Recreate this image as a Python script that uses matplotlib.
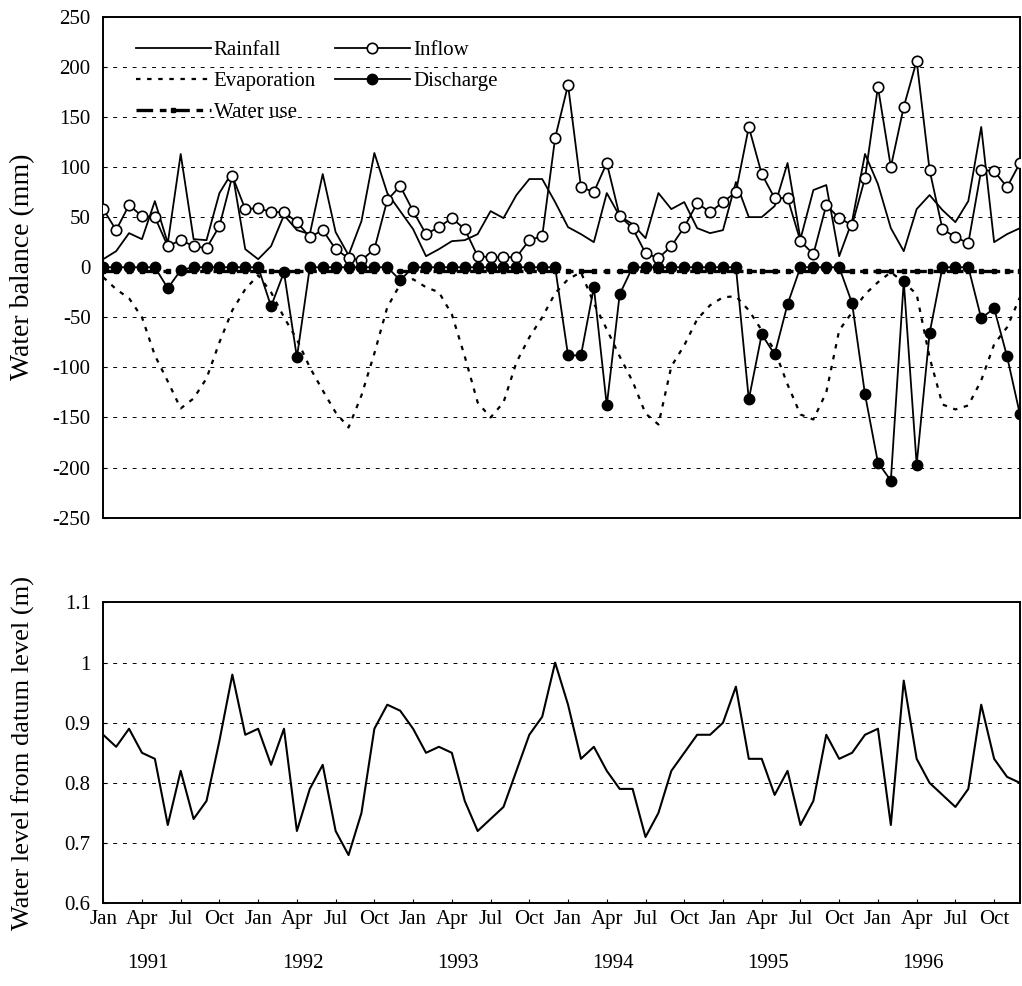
import matplotlib
matplotlib.use('Agg')
import matplotlib.pyplot as plt
from matplotlib.ticker import FuncFormatter
import numpy as np

plt.rcParams['font.family'] = ['Liberation Serif', 'DejaVu Serif']
plt.rcParams['axes.unicode_minus'] = False

# monthly values, Jan 1991 - Dec 1996
rainfall = [8, 16, 34, 28, 66, 24, 113, 28, 27, 74, 95, 18,
            8, 21, 52, 37, 33, 93, 35, 12, 46, 114, 74, 56,
            38, 11, 18, 26, 27, 33, 56, 49, 72, 88, 88, 65,
            40, 33, 25, 74, 51, 43, 29, 74, 58, 65, 39, 34,
            37, 85, 50, 50, 61, 104, 28, 77, 82, 11, 46, 113,
            83, 39, 16, 58, 72, 57, 45, 66, 140, 25, 33, 39]
inflow = [58, 37, 62, 51, 50, 21, 27, 21, 19, 41, 91, 58,
          59, 55, 55, 45, 30, 37, 18, 9, 7, 18, 67, 81,
          56, 33, 40, 49, 38, 11, 10, 10, 10, 27, 31, 129,
          182, 80, 75, 104, 51, 39, 14, 9, 21, 40, 64, 55,
          65, 75, 140, 93, 69, 69, 26, 13, 62, 49, 42, 89,
          180, 100, 160, 206, 97, 38, 30, 24, 97, 96, 80, 104]
evaporation = [-10, -22, -31, -50, -88, -114, -141, -131, -111, -75, -43, -22,
               -8, -25, -50, -72, -100, -123, -145, -160, -128, -86, -40, -17,
               -12, -20, -25, -47, -89, -135, -150, -135, -95, -70, -50, -26,
               -12, -5, -36, -62, -89, -114, -146, -157, -99, -78, -52, -38,
               -30, -29, -43, -63, -83, -117, -147, -152, -125, -63, -45, -27,
               -15, -5, -15, -27, -90, -137, -142, -138, -113, -77, -60, -30]
discharge = [0, 0, 0, 0, 0, -21, -3, 0, 0, 0, 0, 0,
             0, -39, -5, -90, 0, 0, 0, 0, 0, 0, 0, -13,
             0, 0, 0, 0, 0, 0, 0, 0, 0, 0, 0, 0,
             -88, -88, -20, -138, -27, 0, 0, 0, 0, 0, 0, 0,
             0, 0, -132, -67, -87, -37, 0, 0, 0, 0, -36, -127,
             -195, -213, -14, -197, -66, 0, 0, 0, -51, -41, -89, -147]
water_use = [-4, -4, -4, -4, -4, -4, -4, -4, -4, -4, -4, -4,
             -4, -4, -4, -4, -4, -4, -4, -4, -4, -4, -4, -4,
             -4, -4, -4, -4, -4, -4, -4, -4, -4, -4, -4, -4,
             -4, -4, -4, -4, -4, -4, -4, -4, -4, -4, -4, -4,
             -4, -4, -4, -4, -4, -4, -4, -4, -4, -4, -4, -4,
             -4, -4, -4, -4, -4, -4, -4, -4, -4, -4, -4, -4]
water_level = [0.88, 0.86, 0.89, 0.85, 0.84, 0.73, 0.82, 0.74, 0.77, 0.87, 0.98, 0.88,
               0.89, 0.83, 0.89, 0.72, 0.79, 0.83, 0.72, 0.68, 0.75, 0.89, 0.93, 0.92,
               0.89, 0.85, 0.86, 0.85, 0.77, 0.72, 0.74, 0.76, 0.82, 0.88, 0.91, 1.00,
               0.93, 0.84, 0.86, 0.82, 0.79, 0.79, 0.71, 0.75, 0.82, 0.85, 0.88, 0.88,
               0.90, 0.96, 0.84, 0.84, 0.78, 0.82, 0.73, 0.77, 0.88, 0.84, 0.85, 0.88,
               0.89, 0.73, 0.97, 0.84, 0.80, 0.78, 0.76, 0.79, 0.93, 0.84, 0.81, 0.80]
years = ['1991', '1992', '1993', '1994', '1995', '1996']
month_labels = ['Jan', 'Apr', 'Jul', 'Oct']

x = np.arange(len(rainfall))
fs = 15
grid_kw = dict(color='black', linestyle=(0, (4, 6)), linewidth=0.7)

fig = plt.figure(figsize=(10.22, 9.86), dpi=100)
ax0 = fig.add_axes([0.101, 0.475, 0.897, 0.508])
ax1 = fig.add_axes([0.101, 0.084, 0.897, 0.305])

# top panel: water balance
ax0.plot(x, rainfall, '-', color='black', lw=1.3, label='Rainfall')
ax0.plot(x, evaporation, color='black', lw=1.6, linestyle=(0, (2, 3)), label='Evaporation')
ax0.plot(x, water_use, color='black', lw=2.4, linestyle=(0, (5, 2, 2, 2)),
         marker='s', ms=3, label='Water use', zorder=3)
ax0.plot(x, inflow, '-', color='black', lw=1.3, marker='o', ms=7.5,
         mfc='white', mec='black', mew=1.2, label='Inflow', zorder=4)
ax0.plot(x, discharge, '-', color='black', lw=1.3, marker='o', ms=7.5,
         mfc='black', mec='black', label='Discharge', zorder=4)

ax0.set_xlim(0, len(x) - 1)
ax0.set_ylim(-250, 250)
ax0.set_yticks(np.arange(-250, 251, 50))
for v in np.arange(-200, 201, 50):
    if v != 0:
        ax0.axhline(v, zorder=0, **grid_kw)
ax0.set_xticks([])
ax0.set_ylabel('Water balance (mm)', fontsize=20)
ax0.tick_params(axis='y', labelsize=fs, direction='in', length=3, pad=9)

ax0.legend(ncol=2, loc='upper left', frameon=False, fontsize=fs,
           handlelength=3.6, handletextpad=0.15, columnspacing=0.9,
           labelspacing=0.55, bbox_to_anchor=(0.015, 0.99))

# bottom panel: water level
ax1.plot(x, water_level, '-', color='black', lw=1.5)
ax1.set_xlim(0, len(x) - 1)
ax1.set_ylim(0.6, 1.1)
ax1.set_yticks([0.6, 0.7, 0.8, 0.9, 1.0, 1.1])
ax1.yaxis.set_major_formatter(FuncFormatter(lambda v, p: '%g' % round(v, 2)))
for v in [0.7, 0.8, 0.9, 1.0]:
    ax1.axhline(v, zorder=0, **grid_kw)
ax1.set_ylabel('Water level from datum level (m)', fontsize=19)

tick_pos = [m for m in range(0, len(x), 3)]
ax1.set_xticks(tick_pos)
ax1.set_xticklabels([month_labels[(m % 12) // 3] for m in tick_pos])
ax1.tick_params(axis='x', labelsize=fs, direction='in', length=3, pad=5)
ax1.tick_params(axis='y', labelsize=fs, direction='in', length=3, pad=9)
for k, yr in enumerate(years):
    ax1.text(12 * k + 3.5, -0.2, yr, transform=ax1.get_xaxis_transform(),
             ha='center', va='center', fontsize=fs)

for ax in (ax0, ax1):
    for s in ax.spines.values():
        s.set_linewidth(1.4)
        s.set_color('black')
    ax.yaxis.set_label_coords(-0.074, 0.5)

fig.savefig('out.png', dpi=100)
